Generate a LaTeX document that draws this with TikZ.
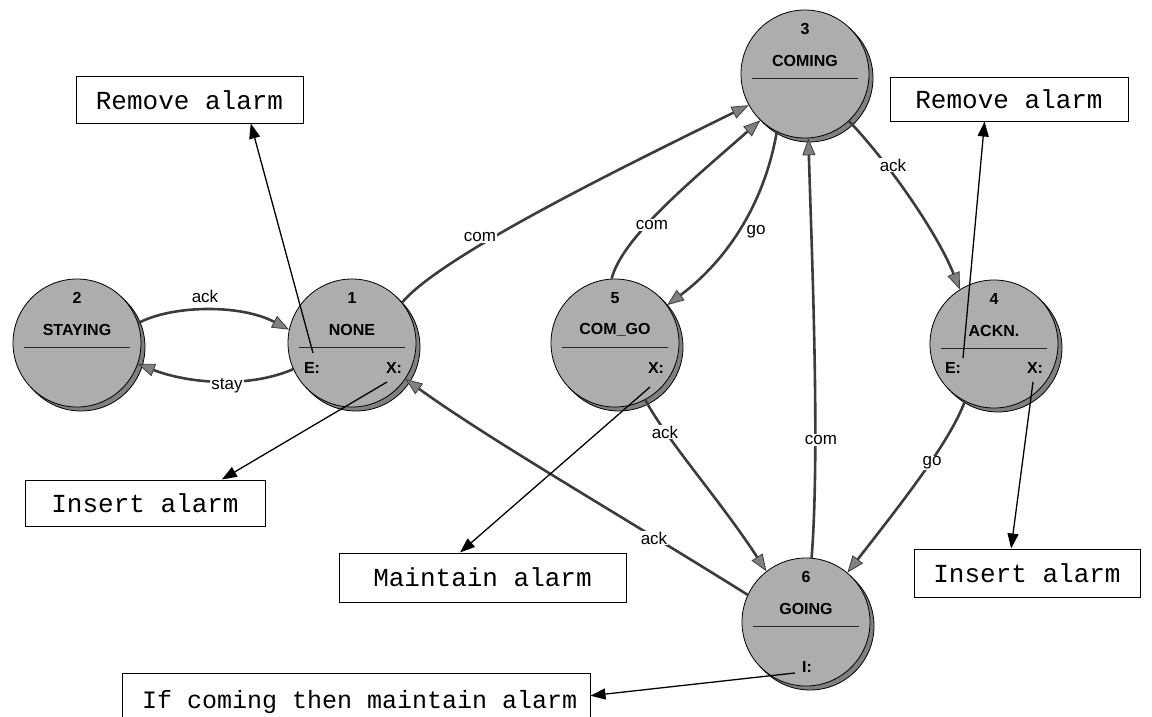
\documentclass[tikz,border=0pt]{standalone}
\usepackage{fontspec}
\setmainfont{Liberation Sans}
\newfontfamily\monofont{Liberation Mono}
\usetikzlibrary{arrows.meta}
\definecolor{stfill}{HTML}{ADADAD}
\definecolor{shfill}{HTML}{808080}
\definecolor{edgecol}{HTML}{3C3C3C}
\definecolor{tipfill}{HTML}{808080}
\tikzset{
  statec/.style={circle, draw=black, line width=0.8pt, fill=stfill, minimum size=128pt, inner sep=0pt},
  shadowc/.style={circle, draw=black, line width=0.8pt, fill=shfill, minimum size=128pt, inner sep=0pt},
  stlabel/.style={font=\fontsize{16}{18}\selectfont\bfseries, inner sep=0pt},
  divider/.style={draw=black!85, line width=0.9pt},
  trans/.style={draw=edgecol, line width=2.6pt, -{Triangle[length=17pt,width=13pt,fill=tipfill,line width=0.8pt]}},
  elabel/.style={font=\fontsize{17}{19}\selectfont, fill=white, inner sep=1pt},
  action/.style={draw=black, line width=1.3pt, -{Triangle[length=15pt,width=11pt]}},
  actbox/.style={draw=black, line width=1pt, fill=white, font=\monofont\fontsize{26}{28}\selectfont, inner sep=0pt},
}
\newcommand\mystate[5]{%
  \node[shadowc] (#1sh) at (#2+4,#3+4) {};
  \node[statec] (#1) at (#2,#3) {};
  \node[stlabel] (#1num) at (#2,#3-45) {#4};
  \node[stlabel] (#1name) at (#2,#3-13) {#5};
  \draw[divider] (#2-53,#3+4) -- (#2+53,#3+4);
}
\begin{document}
\begin{tikzpicture}[x=1pt,y=-1pt]
\useasboundingbox (0,0) rectangle (1152,717);

% boxes
\node[actbox, minimum width=227pt, minimum height=46pt] (remL) at (189.5,100) {Remove alarm};
\node[actbox, minimum width=238pt, minimum height=43pt] (remR) at (1009,99.5) {Remove alarm};
\node[actbox, minimum width=240pt, minimum height=46pt] (insL) at (145,503) {Insert alarm};
\node[actbox, minimum width=287pt, minimum height=49pt] (maint) at (482.5,577.5) {Maintain alarm};
\node[actbox, minimum width=226pt, minimum height=48pt] (insR) at (1027,573) {Insert alarm};
\node[actbox, minimum width=468pt, minimum height=70pt] (ifbox) at (356,708) {};
\node[font=\monofont\fontsize{25}{27}\selectfont, inner sep=0pt, anchor=base west] (iftext) at (142,708) {If coming then maintain alarm};

% states
\mystate{s2}{77}{343}{2}{STAYING}
\mystate{s1}{352}{343}{1}{NONE}
\mystate{s3}{805}{74}{3}{COMING}
\mystate{s5}{615}{343}{5}{COM\_GO}
\mystate{s4}{994}{344}{4}{ACKN.}
\mystate{s6}{806}{622}{6}{GOING}

\node[stlabel] (s1e) at (312,368) {E:};
\node[stlabel] (s1x) at (394,368) {X:};
\node[stlabel] (s5x) at (656,368) {X:};
\node[stlabel] (s4e) at (953,368) {E:};
\node[stlabel] (s4x) at (1035,368) {X:};
\node[stlabel] (s6i) at (807,667) {I:};

% transitions
\draw[trans] (s2.18) .. controls (172,305) and (240,304) .. (s1.168);
\draw[trans] (s1.204) .. controls (250,388) and (190,384) .. (s2.-19);
\draw[trans] (s1.39) .. controls (440,258) and (600,178) .. (s3.209);
\draw[trans] (s5.93) .. controls (622,238) and (690,182) .. (s3.226);
\draw[trans] (s3.244) .. controls (765,200) and (730,258) .. (s5.36.6);
\draw[trans] (s6.85.5) .. controls (820,450) and (812,260) .. (s3.273);
\draw[trans] (s3.313) .. controls (882,155) and (935,228) .. (s4.122);
\draw[trans] (s5.298) .. controls (668,442) and (720,500) .. (s6.128.5);
\draw[trans] (s4.243) .. controls (950,442) and (900,505) .. (s6.50);
\draw[trans] (s6.155) .. controls (620,515) and (490,440) .. (s1.-34.6);

% edge labels
\node[elabel] (l1) at (205,296) {ack};
\node[elabel] (l2) at (227,386) {stay};
\node[elabel] (l3) at (480,237) {com};
\node[elabel] (l4) at (652,225) {com};
\node[elabel] (l5) at (756,232) {go};
\node[elabel] (l6) at (821,440) {com};
\node[elabel] (l7) at (893,165) {ack};
\node[elabel] (l8) at (665,432) {ack};
\node[elabel] (l9) at (932,463) {go};
\node[elabel] (l10) at (654,538) {ack};

% action arrows
\coordinate (a1) at (313,353);
\coordinate (a2) at (387,382);
\coordinate (a3) at (650,387);
\coordinate (a4) at (963,358);
\coordinate (a5) at (1033,382);
\coordinate (a6) at (795,673);
\draw[action] (a1) -- (remL.-21.8);
\draw[action] (a2) -- (insL.17);
\draw[action] (a3) -- (maint.132.6);
\draw[action] (a4) -- (remR.-138.1);
\draw[action] (a5) -- (insR.123.7);
\draw[action] (a6) -- (ifbox.3.2);
\end{tikzpicture}
\end{document}
